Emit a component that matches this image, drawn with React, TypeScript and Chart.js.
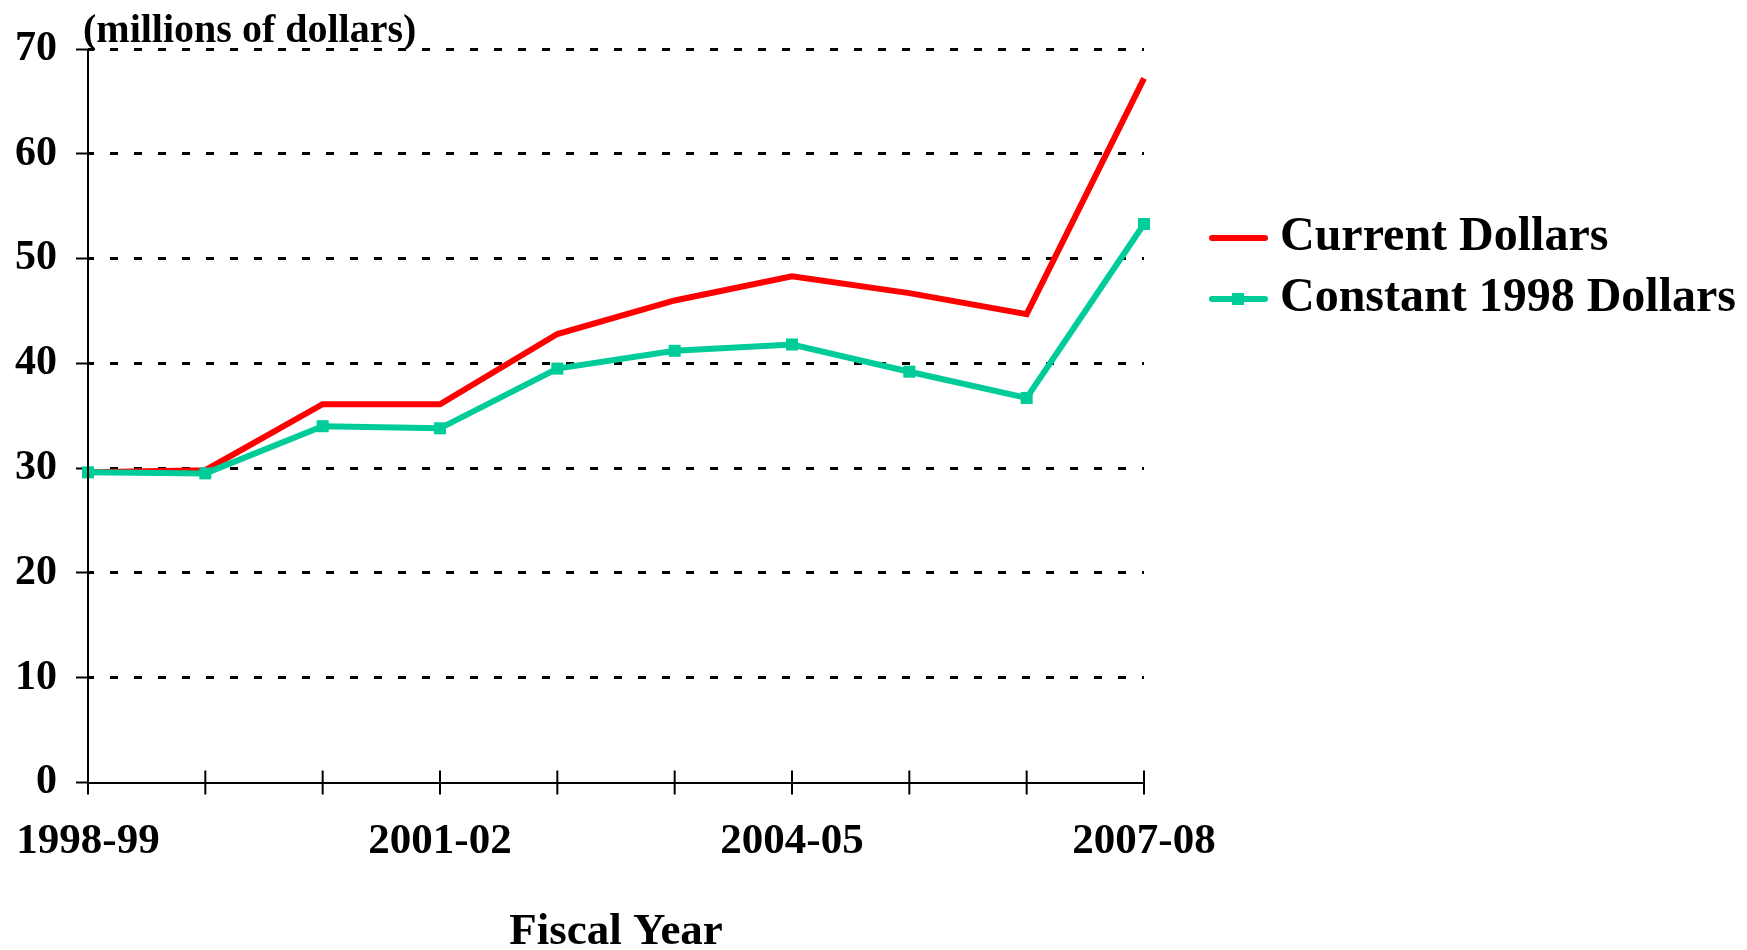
import React, { useEffect, useRef } from 'react';
import { Chart, registerables } from 'chart.js';

Chart.register(...registerables);

const categories = ['1998-99', '1999-00', '2000-01', '2001-02', '2002-03', '2003-04', '2004-05', '2005-06', '2006-07', '2007-08'];
const shownLabelIndexes = [0, 3, 6, 9];
const currentDollars = [29.6, 29.8, 36.1, 36.1, 42.8, 46.0, 48.3, 46.7, 44.7, 67.2];
const constantDollars = [29.6, 29.5, 34.0, 33.8, 39.5, 41.2, 41.8, 39.2, 36.7, 53.3];
const seriesNames = ['Current Dollars', 'Constant 1998 Dollars'];
const unitLabel = '(millions of dollars)';
const xTitle = 'Fiscal Year';
const yMin = 0;
const yMax = 70;
const yStep = 10;

const RED = '#ff0000';
const GREEN = '#00cc99';
const FONT = "'Liberation Serif', 'Times New Roman', serif";

const decorations = {
  id: 'decorations',
  afterDraw(chart: any) {
    const ctx = chart.ctx;
    const xs = chart.scales.x;
    const ys = chart.scales.y;
    ctx.save();
    // solid y axis line and x tick marks crossing the x axis
    ctx.strokeStyle = '#000';
    ctx.lineWidth = 2;
    ctx.setLineDash([]);
    const y0 = ys.getPixelForValue(0);
    const yTop = ys.getPixelForValue(yMax);
    const xL = xs.getPixelForValue(0);
    ctx.beginPath();
    ctx.moveTo(xL, yTop);
    ctx.lineTo(xL, y0);
    ctx.stroke();
    categories.forEach((_, i) => {
      const px = xs.getPixelForValue(i);
      ctx.beginPath();
      ctx.moveTo(px, y0 + 12);
      ctx.lineTo(px, y0 - 12);
      ctx.stroke();
    });
    // unit label
    ctx.fillStyle = '#000';
    ctx.font = `bold 40px ${FONT}`;
    ctx.textAlign = 'left';
    ctx.textBaseline = 'alphabetic';
    ctx.fillText(unitLabel, 83, 42);
    // legend
    const rows = [238, 299];
    chart.data.datasets.forEach((ds: any, i: number) => {
      const ly = rows[i];
      ctx.strokeStyle = ds.borderColor;
      ctx.lineWidth = 6;
      ctx.lineCap = 'round';
      ctx.beginPath();
      ctx.moveTo(1212, ly);
      ctx.lineTo(1265, ly);
      ctx.stroke();
      if (ds.pointRadius > 0) {
        ctx.fillStyle = ds.pointBackgroundColor;
        ctx.fillRect(1232, ly - 6, 12, 12);
      }
      ctx.fillStyle = '#000';
      ctx.font = `bold 48px ${FONT}`;
      ctx.textBaseline = 'middle';
      ctx.fillText(ds.label, 1280, ly);
    });
    ctx.restore();
  },
};

export default function App() {
  const ref = useRef<HTMLCanvasElement | null>(null);
  useEffect(() => {
    if (!ref.current) return;
    const chart = new Chart(ref.current, {
      type: 'line',
      data: {
        labels: categories,
        datasets: [
          {
            label: seriesNames[0],
            data: currentDollars,
            borderColor: RED,
            backgroundColor: RED,
            borderWidth: 6,
            pointRadius: 0,
            pointHoverRadius: 0,
            tension: 0,
            order: 1,
            clip: false as any,
          },
          {
            label: seriesNames[1],
            data: constantDollars,
            borderColor: GREEN,
            backgroundColor: GREEN,
            borderWidth: 6,
            pointStyle: 'rect',
            pointRadius: 8.5,
            pointHoverRadius: 8.5,
            pointBackgroundColor: GREEN,
            pointBorderWidth: 0,
            tension: 0,
            order: 0,
            clip: false as any,
          },
        ],
      },
      options: {
        responsive: false,
        animation: false,
        devicePixelRatio: 1,
        layout: { padding: { left: 0, top: 49, right: 1747 - 1144, bottom: 0 } },
        plugins: {
          legend: { display: false },
          tooltip: { enabled: false },
        },
        scales: {
          x: {
            type: 'category',
            offset: false,
            afterFit: (scale: any) => {
              scale.height = 950 - 782.5;
            },
            border: { display: true, color: '#000', width: 2 },
            grid: {
              display: true,
              drawOnChartArea: false,
              drawTicks: true,
              tickLength: 34,
              tickColor: 'rgba(0,0,0,0)',
              tickWidth: 2,
              color: 'rgba(0,0,0,0)',
            },
            ticks: {
              autoSkip: false,
              maxRotation: 0,
              minRotation: 0,
              padding: 0,
              color: '#000',
              font: { family: FONT, size: 43, weight: 'bold', lineHeight: 1.2 },
              callback: (_v: any, idx: number) => (shownLabelIndexes.includes(idx) ? categories[idx] : ''),
            },
            title: {
              display: true,
              text: xTitle,
              color: '#000',
              font: { family: FONT, size: 45, weight: 'bold', lineHeight: 0.8 },
              padding: 0,
            },
          },
          y: {
            min: yMin,
            max: yMax,
            afterFit: (scale: any) => {
              scale.width = 88;
            },
            border: { display: false, color: '#000', width: 2, dash: [8, 16], dashOffset: 2 },
            grid: {
              display: true,
              drawOnChartArea: true,
              drawTicks: true,
              tickLength: 12,
              tickColor: '#000',
              tickWidth: 2,
              tickBorderDash: [],
              lineWidth: 3,
              color: (c: any) => (c.tick && c.tick.value === 0 ? 'rgba(0,0,0,0)' : '#000'),
            } as any,
            ticks: {
              stepSize: yStep,
              padding: 19,
              color: '#000',
              font: { family: FONT, size: 42, weight: 'bold' },
            },
          },
        },
      },
      plugins: [decorations],
    } as any);
    return () => chart.destroy();
  }, []);
  return (
    <div style={{ position: 'absolute', left: 0, top: 0, width: 1747, height: 950 }}>
      <canvas ref={ref} width={1747} height={950} style={{ display: 'block', width: 1747, height: 950 }} />
    </div>
  );
}
